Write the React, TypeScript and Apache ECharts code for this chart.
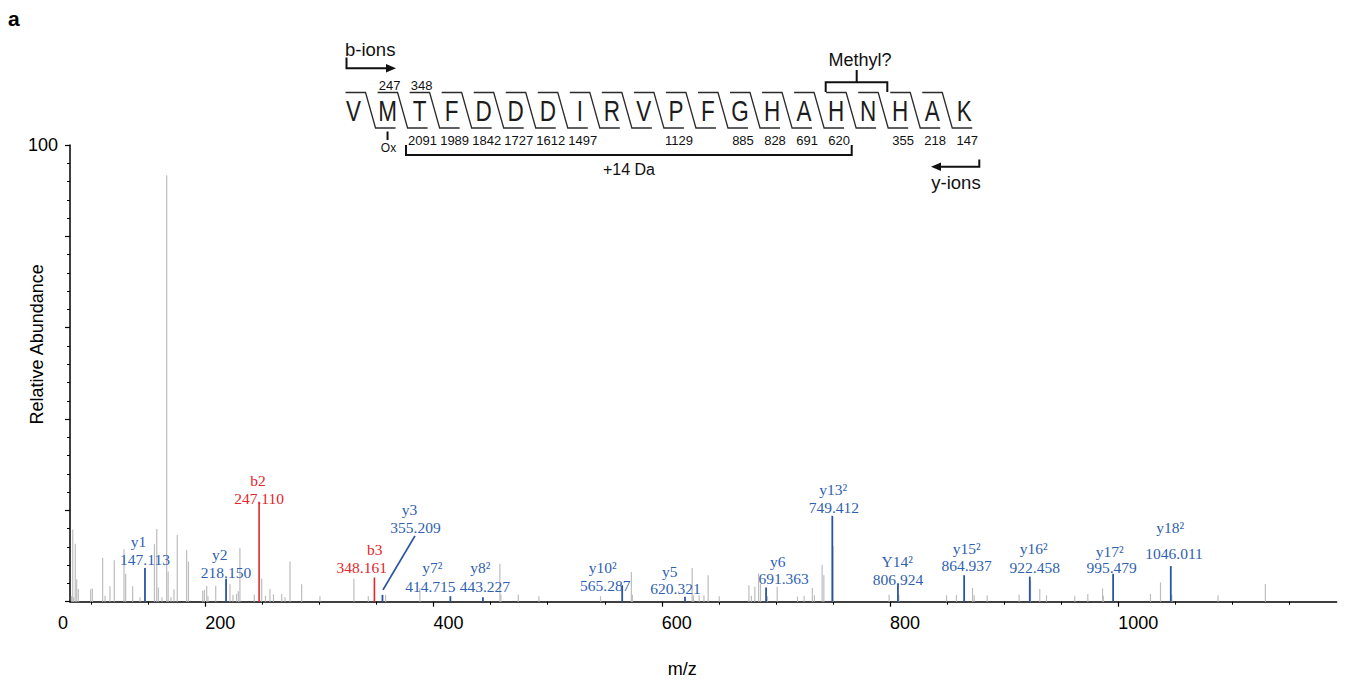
import React, { useEffect, useRef } from "react";
import * as echarts from "echarts";

// ---------- spectrum data ----------
const grayMz = [82.7, 83.8, 84.6, 86.0, 87.3, 88.7, 99.5, 101.0, 110.0, 112.1, 116.4, 120.2, 128.7, 130.2, 136.3, 142.7, 155.4, 157.4, 158.8, 162.0, 166.1, 167.4, 169.9, 172.5, 175.4, 183.6, 185.2, 197.7, 199.2, 201.2, 202.3, 209.1, 221.6, 224.2, 227.3, 228.9, 230.3, 242.9, 249.4, 252.7, 256.6, 259.7, 266.9, 269.8, 274.2, 284.4, 300.4, 330.2, 342.8, 358.0, 388.0, 458.1, 459.0, 474.2, 492.3, 546.3, 573.3, 574.2, 626.6, 627.7, 632.7, 636.9, 640.6, 650.3, 676.3, 678.5, 681.5, 684.8, 686.5, 692.6, 701.1, 718.9, 724.7, 731.9, 733.7, 740.5, 742.0, 750.1, 799.2, 807.7, 849.5, 858.2, 872.3, 873.7, 885.1, 913.1, 923.1, 931.2, 937.1, 961.9, 973.3, 986.2, 986.9, 1028.2, 1037.0, 1046.9, 1087.4, 1128.9];
const grayHeights = [1.2, 15.8, 1.0, 12.7, 4.9, 2.8, 2.7, 2.9, 9.6, 1.3, 3.4, 9.1, 11.5, 6.1, 3.4, 1.0, 12.6, 15.9, 3.1, 1.0, 93.4, 6.6, 1.0, 2.7, 14.6, 11.3, 8.8, 2.4, 2.6, 3.5, 1.2, 3.5, 3.8, 1.5, 1.7, 2.3, 11.8, 1.6, 5.0, 1.3, 2.8, 1.6, 1.7, 1.0, 8.8, 3.8, 1.2, 5.0, 1.2, 1.5, 3.0, 8.3, 1.6, 1.5, 1.2, 1.2, 6.5, 1.5, 7.4, 1.4, 1.4, 1.4, 5.8, 1.2, 3.6, 1.3, 3.3, 6.2, 3.9, 1.2, 3.3, 1.1, 1.3, 3.0, 1.4, 8.1, 5.8, 12.2, 1.5, 1.5, 1.4, 1.5, 3.0, 1.4, 1.4, 1.5, 4.6, 2.8, 1.4, 1.2, 1.7, 2.9, 1.3, 1.7, 4.2, 1.5, 1.4, 3.9];

const ionNames = ["y1", "y2", "b2", "b3", "y3", "y7²", "y8²", "y10²", "y5", "y6", "y13²", "Y14²", "y15²", "y16²", "y17²", "y18²"];
const ionMz = [147.113, 218.15, 247.11, 348.161, 355.209, 414.715, 443.227, 565.287, 620.321, 691.363, 749.412, 806.924, 864.937, 922.458, 995.479, 1046.011];
const ionHeights = [7.4, 5.0, 21.9, 5.3, 1.5, 1.2, 1.0, 3.6, 1.1, 3.1, 18.8, 4.0, 5.8, 5.5, 6.1, 7.8];
const ionLabels = ["147.113", "218.150", "247.110", "348.161", "355.209", "414.715", "443.227", "565.287", "620.321", "691.363", "749.412", "806.924", "864.937", "922.458", "995.479", "1046.011"];

// label layout (pixels, relative to the peak top)
const labelDx = [0, 0, 0, -12.7, 33, -20, 2, -17, -9.5, 17.6, 1.5, 0, 2.5, 5, -1.5, 3.3];
const labelRise = [3.4, 1.4, -1.6, 5, 62, 5, 6, -5.3, 2.7, 3.7, 3.3, -0.7, 5, 4, 1.3, 7.7];
const nameDx = [-6.5, -6.3, -1, 13, -6, 2, -4.5, -2.5, -5.8, -5.8, -0.5, -0.8, 0, -1, -1.8, -4];
const nameGap = [18, 18, 18, 18, 18.5, 19, 19, 18, 17, 17, 17.7, 18, 17, 19, 16, 26];
const connector = [false, false, false, false, true, false, false, false, false, false, false, false, false, false, false, false];

// axis ticks
const xMinorTicks = [100, 150, 250, 300, 350, 450, 500, 550, 650, 700, 750, 850, 900, 950, 1050, 1100, 1150];
const xMajorTicks = [200, 400, 600, 800, 1000];
const xTickLabels = ["200", "400", "600", "800", "1000"];

// peptide annotation
const sequence = ["V", "M", "T", "F", "D", "D", "D", "I", "R", "V", "P", "F", "G", "H", "A", "H", "N", "H", "A", "K"];
const bIonLabels = ["", "247", "348", "", "", "", "", "", "", "", "", "", "", "", "", "", "", "", "", ""];
const yIonLabels = ["", "", "2091", "1989", "1842", "1727", "1612", "1497", "", "", "1129", "", "885", "828", "691", "620", "", "355", "218", "147"];

const BLUE_LINE = "#2a55a3";
const BLUE_TEXT = "#2f5fb0";
const RED = "#e2262b";
const GRAY = "#bdbdbd";
const SANS = '"Liberation Sans", Arial, sans-serif';
const SERIF = '"Liberation Serif", "Times New Roman", serif';

function buildGraphic() {
  const els: any[] = [];
  const c0 = 355.5;
  const pitch = 32.04;
  const cx = (i: number) => c0 + i * pitch;
  const topY = 92.5;
  const botY = 128;
  const lineCol = "#2b2b2b";

  sequence.forEach((s, i) => {
    els.push({
      type: "text",
      x: cx(i) - (i === 0 ? 2 : 0),
      y: 111,
      scaleX: 0.75,
      style: { text: s, x: 0, y: 0, fill: "#1c1c1c", fontSize: 30, fontFamily: SANS, align: "center", verticalAlign: "middle", textAlign: "center", textVerticalAlign: "middle" },
    });
    if (bIonLabels[i]) {
      els.push({ type: "text", style: { text: bIonLabels[i], x: cx(i) + 2, y: 85.5, fill: "#111", fontSize: 13, fontFamily: SANS, align: "center", verticalAlign: "middle", textAlign: "center", textVerticalAlign: "middle" } });
    }
    if (yIonLabels[i]) {
      els.push({ type: "text", style: { text: yIonLabels[i], x: cx(i) + 3, y: 140.5, fill: "#111", fontSize: 13, fontFamily: SANS, align: "center", verticalAlign: "middle", textAlign: "center", textVerticalAlign: "middle" } });
    }
    if (i < sequence.length - 1) {
      const cr = cx(i + 1);
      els.push({
        type: "polyline",
        shape: { points: [[cr - 42, topY], [cr - 22, topY], [cr - 12, botY], [cr + 8, botY]] },
        style: { stroke: lineCol, lineWidth: 1.3, fill: null },
      });
    }
  });

  // Ox
  els.push({ type: "line", shape: { x1: cx(1), y1: 131.5, x2: cx(1), y2: 140 }, style: { stroke: "#111", lineWidth: 2 } });
  els.push({ type: "text", style: { text: "Ox", x: cx(1) + 1, y: 148, fill: "#111", fontSize: 12, fontFamily: SANS, align: "center", verticalAlign: "middle", textAlign: "center", textVerticalAlign: "middle" } });

  // +14 Da bracket
  els.push({ type: "polyline", shape: { points: [[406, 145], [406, 155], [851.7, 155], [851.7, 145]] }, style: { stroke: "#111", lineWidth: 2, fill: null } });
  els.push({ type: "text", style: { text: "+14 Da", x: 629, y: 169, fill: "#111", fontSize: 16, fontFamily: SANS, align: "center", verticalAlign: "middle", textAlign: "center", textVerticalAlign: "middle" } });

  // Methyl? bracket
  els.push({ type: "polyline", shape: { points: [[825.7, 92], [825.7, 82.3], [887.3, 82.3], [887.3, 92]] }, style: { stroke: "#111", lineWidth: 2, fill: null } });
  els.push({ type: "line", shape: { x1: 856.7, y1: 82.3, x2: 856.7, y2: 70 }, style: { stroke: "#111", lineWidth: 2 } });
  els.push({ type: "text", style: { text: "Methyl?", x: 860, y: 60, fill: "#111", fontSize: 18, fontFamily: SANS, align: "center", verticalAlign: "middle", textAlign: "center", textVerticalAlign: "middle" } });

  // b-ions arrow
  els.push({ type: "text", style: { text: "b-ions", x: 345, y: 49, fill: "#111", fontSize: 18.5, fontFamily: SANS, align: "left", verticalAlign: "middle", textAlign: "left", textVerticalAlign: "middle" } });
  els.push({ type: "polyline", shape: { points: [[346.5, 57.5], [346.5, 68.3], [388, 68.3]] }, style: { stroke: "#111", lineWidth: 2, fill: null } });
  els.push({ type: "polygon", shape: { points: [[386, 64], [396, 68.3], [386, 72.6]] }, style: { fill: "#111" } });

  // y-ions arrow
  els.push({ type: "text", style: { text: "y-ions", x: 956, y: 182, fill: "#111", fontSize: 18.5, fontFamily: SANS, align: "center", verticalAlign: "middle", textAlign: "center", textVerticalAlign: "middle" } });
  els.push({ type: "polyline", shape: { points: [[979.3, 159.5], [979.3, 166.7], [939, 166.7]] }, style: { stroke: "#111", lineWidth: 2, fill: null } });
  els.push({ type: "polygon", shape: { points: [[941, 162.4], [931, 166.7], [941, 171]] }, style: { fill: "#111" } });

  // panel letter
  els.push({ type: "text", style: { text: "a", x: 8, y: 18, fill: "#000", fontSize: 21, fontWeight: "bold", fontFamily: SANS, align: "left", verticalAlign: "middle", textAlign: "left", textVerticalAlign: "middle" } });
  return els;
}

function peakSeries(data: number[][], color: string, width: number, z: number) {
  return {
    type: "custom",
    xAxisIndex: 0,
    yAxisIndex: 0,
    data,
    z,
    silent: true,
    encode: { x: 0, y: 1 },
    renderItem: (_p: any, api: any) => {
      const x = api.value(0);
      const y = api.value(1);
      const b = api.coord([x, 0]);
      const t = api.coord([x, y]);
      return { type: "line", shape: { x1: b[0], y1: b[1], x2: t[0], y2: t[1] }, style: { stroke: color, lineWidth: width } };
    },
  };
}

export default function App() {
  const ref = useRef<HTMLDivElement>(null);
  useEffect(() => {
    if (!ref.current) return;
    const chart = echarts.init(ref.current, null, { renderer: "svg" });
    const grayData = grayMz.map((m, i) => [m, grayHeights[i]]);
    const blueData: number[][] = [];
    const redData: number[][] = [];
    ionMz.forEach((m, i) => {
      (ionNames[i].startsWith("b") ? redData : blueData).push([m, ionHeights[i]]);
    });
    const annData = ionMz.map((m, i) => [m, ionHeights[i], i]);

    const xMin = 81.4;
    const xMax = 1191.4;

    const option: any = {
      animation: false,
      grid: { left: 70, right: 12.3, top: 145, bottom: 82.3, containLabel: false, outerBoundsMode: "none" },
      xAxis: [
        {
          type: "value",
          min: xMin,
          max: xMax,
          name: "m/z",
          nameLocation: "middle",
          nameGap: 58,
          nameMoveOverlap: false,
          nameTextStyle: { fontSize: 18, color: "#000", fontFamily: SANS, padding: [0, 42, 0, 0] },
          axisLine: { onZero: false, lineStyle: { color: "#000", width: 1.5 } },
          axisTick: { customValues: xMinorTicks, length: 3, lineStyle: { color: "#000", width: 1 } },
          axisLabel: {
            customValues: xMajorTicks,
            formatter: (v: number) => xTickLabels[xMajorTicks.indexOf(v)] ?? "",
            align: "left",
            margin: 12,
            fontSize: 18,
            color: "#000",
            fontFamily: SANS,
          },
          splitLine: { show: false },
        },
        {
          type: "value",
          min: xMin,
          max: xMax,
          position: "bottom",
          axisLine: { show: false, onZero: false },
          axisTick: { customValues: xMajorTicks, length: 5, lineStyle: { color: "#000", width: 1.2 } },
          axisLabel: {
            customValues: [xMin],
            formatter: () => "0",
            align: "right",
            margin: 12,
            padding: [0, 2, 0, 0],
            fontSize: 18,
            color: "#000",
            fontFamily: SANS,
          },
          splitLine: { show: false },
        },
      ],
      yAxis: [
        {
          type: "value",
          min: 0,
          max: 100,
          interval: 4,
          name: "Relative Abundance",
          nameLocation: "middle",
          nameGap: 24,
          nameMoveOverlap: false,
          nameTextStyle: { fontSize: 18, color: "#000", fontFamily: SANS, padding: [0, 0, 0, 58] },
          axisLine: { show: true, onZero: false, lineStyle: { color: "#000", width: 1.5 } },
          axisTick: { show: true, length: 3, lineStyle: { color: "#000", width: 1 } },
          axisLabel: { formatter: (v: number) => (v === 100 ? "100" : ""), margin: 12, fontSize: 18, color: "#000", fontFamily: SANS },
          splitLine: { show: false },
        },
        {
          type: "value",
          min: 0,
          max: 100,
          interval: 20,
          position: "left",
          axisLine: { show: false, onZero: false },
          axisTick: { show: true, length: 5, lineStyle: { color: "#000", width: 1.2 } },
          axisLabel: { show: false },
          splitLine: { show: false },
        },
      ],
      graphic: buildGraphic(),
      series: [
        peakSeries(grayData, GRAY, 1.2, 2),
        peakSeries(blueData, BLUE_LINE, 1.8, 3),
        peakSeries(redData, RED, 1.6, 3),
        {
          type: "custom",
          xAxisIndex: 0,
          yAxisIndex: 0,
          data: annData,
          z: 4,
          silent: true,
          clip: false,
          encode: { x: 0, y: 1 },
          renderItem: (_p: any, api: any) => {
            const i = api.value(2);
            const t = api.coord([api.value(0), api.value(1)]);
            const col = ionNames[i].startsWith("b") ? RED : BLUE_TEXT;
            const vx = t[0] + labelDx[i];
            const base = t[1] - labelRise[i];
            const children: any[] = [
              { type: "text", style: { text: ionLabels[i], x: vx, y: base - 5, fill: col, fontSize: 15.5, fontFamily: SERIF, align: "center", verticalAlign: "middle", textAlign: "center", textVerticalAlign: "middle" } },
              { type: "text", style: { text: ionNames[i], x: vx + nameDx[i], y: base - nameGap[i] - 5, fill: col, fontSize: 15.5, fontFamily: SERIF, align: "center", verticalAlign: "middle", textAlign: "center", textVerticalAlign: "middle" } },
            ];
            if (connector[i]) {
              children.push({ type: "line", shape: { x1: t[0] + 0.5, y1: t[1] - 5, x2: vx - 0.5, y2: base + 3 }, style: { stroke: BLUE_LINE, lineWidth: 1.8 } });
            }
            return { type: "group", children };
          },
        },
      ],
    };
    chart.setOption(option);
    return () => chart.dispose();
  }, []);
  return <div ref={ref} style={{ position: "absolute", left: 0, top: 0, width: 1349, height: 684 }} />;
}
